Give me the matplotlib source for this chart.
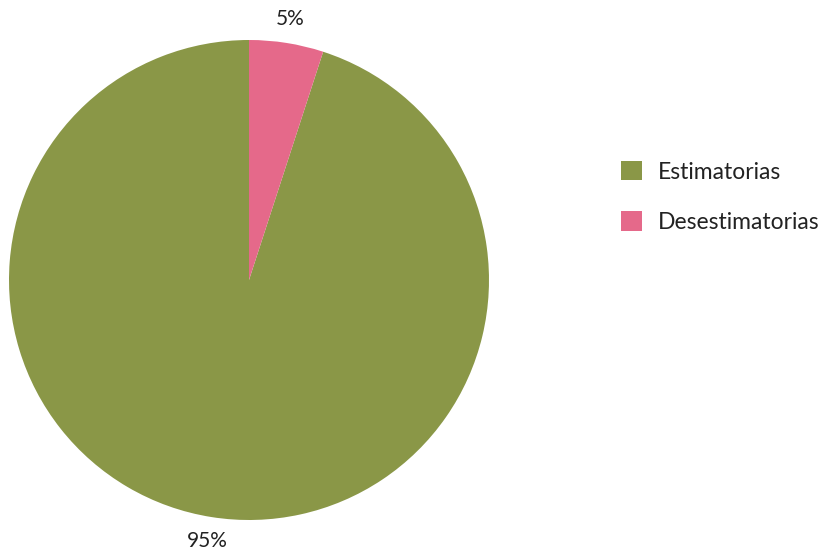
import numpy as np
import matplotlib.pyplot as plt
from matplotlib.patches import Patch

labels = ["Estimatorias", "Desestimatorias"]
values = [95, 5]
colors = ["#8A9747", "#E5698A"]

plt.rcParams["font.family"] = ["Lato", "DejaVu Sans"]

fig = plt.figure(figsize=(8.28, 5.52), dpi=100)
# pie centred at (249, 280) px with a 240 px radius
ax = fig.add_axes([9 / 828, 32 / 552, 480 / 828, 480 / 552])
ax.pie(values, colors=colors, startangle=90, counterclock=True,
       wedgeprops=dict(linewidth=0))
ax.set_xlim(-1, 1)
ax.set_ylim(-1, 1)
ax.set_aspect("equal")
ax.axis("off")

# percentage labels just outside each wedge
total = sum(values)
start = 90.0
for v in values:
    mid = np.deg2rad(start + 360 * v / total / 2)
    ax.text(1.1 * np.cos(mid), 1.1 * np.sin(mid), f"{v}%",
            ha="center", va="center", fontsize=15, color="#222222")
    start += 360 * v / total

handles = [Patch(facecolor=c, edgecolor="none") for c in colors]
fig.legend(handles, labels, loc="center left", bbox_to_anchor=(621 / 828, 1 - 197 / 552),
           frameon=False, fontsize=16.5, borderpad=0, borderaxespad=0,
           handlelength=0.92, handleheight=0.92,
           handletextpad=0.68, labelspacing=1.25, labelcolor="#222222")

fig.savefig("out.png", dpi=100)
